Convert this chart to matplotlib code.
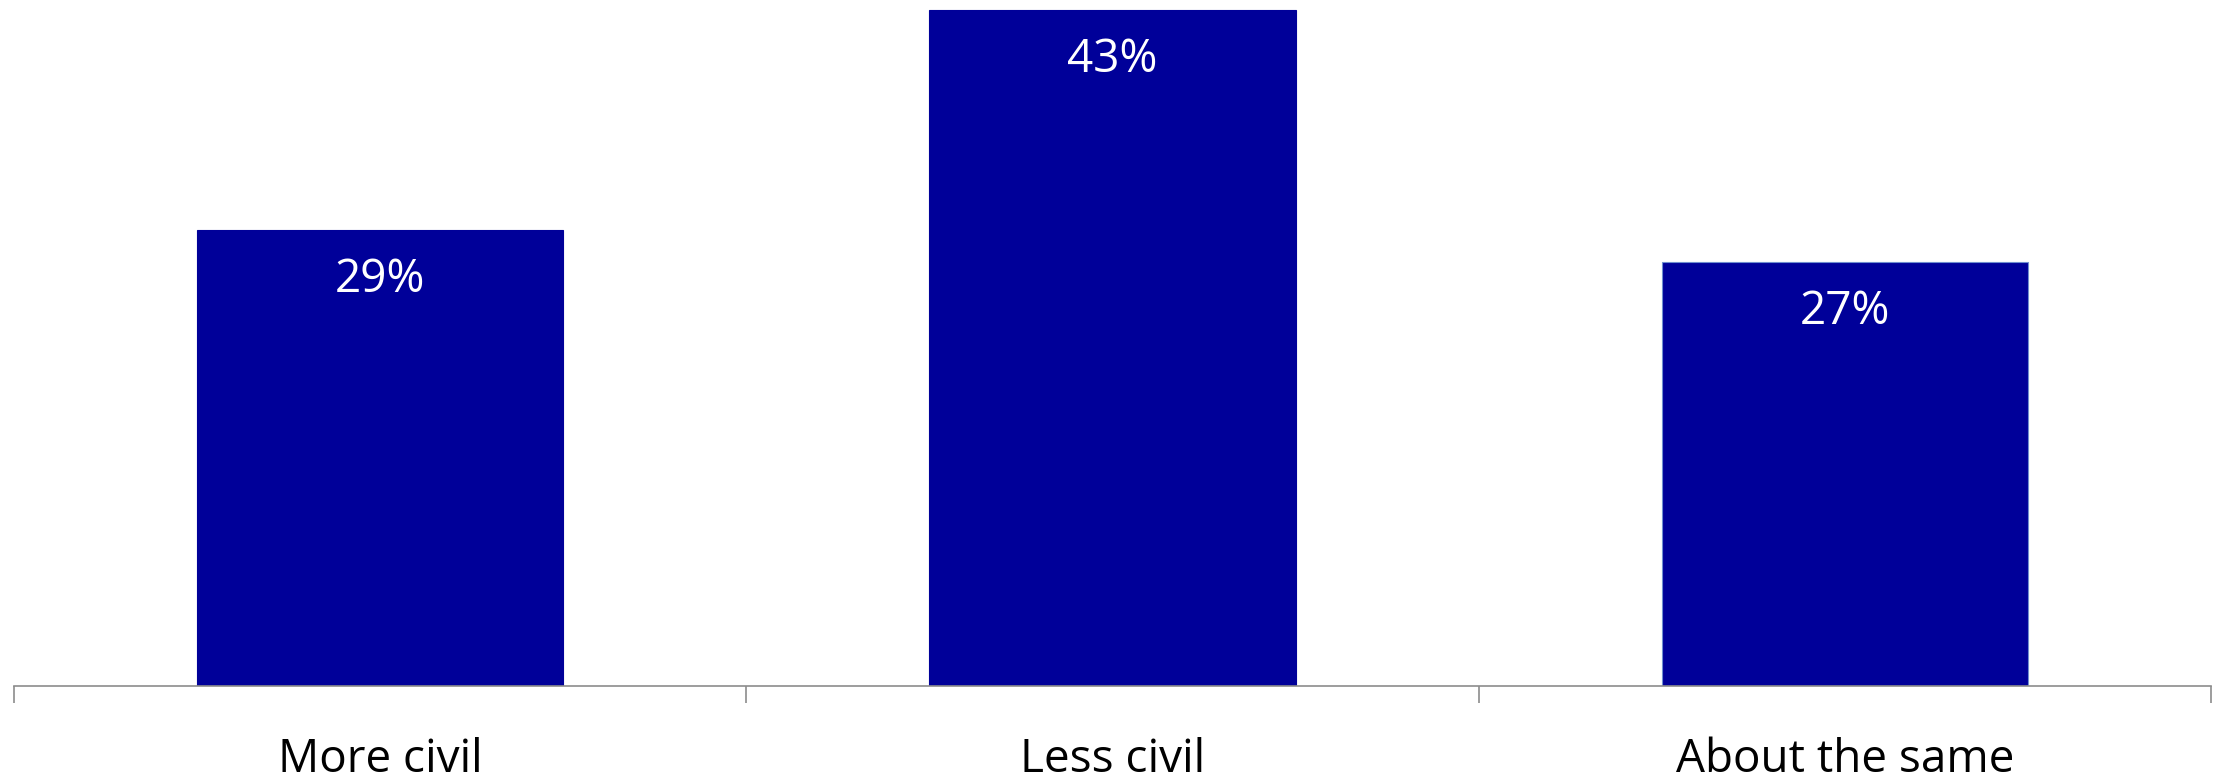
import matplotlib
matplotlib.use('Agg')
import matplotlib.pyplot as plt

plt.rcParams['font.family'] = ['Open Sans', 'DejaVu Sans']

# 데이터
categories = ['More civil', 'Less civil', 'About the same']
values = [29, 43, 27]
value_labels = ['29%', '43%', '27%']

bar_color = '#000099'
axis_color = '#8c8c8c'

fig = plt.figure(figsize=(22.24, 7.79), dpi=100)
ax = fig.add_axes([14 / 2224, 1 - 686 / 779, (2211 - 14) / 2224, 686 / 779])

x = list(range(len(categories)))
bars = ax.bar(x, values, width=0.5, color=bar_color, edgecolor=bar_color, linewidth=0.8)
# 세 번째 막대는 테두리가 살짝 밝음
bars[2].set_edgecolor('#6f8fd0')

for b, lab in zip(bars, value_labels):
    ax.annotate(lab, xy=(b.get_x() + b.get_width() / 2, b.get_height()),
                xytext=(0, -36), textcoords='offset points',
                ha='center', va='center', fontsize=33, color='white')

ax.set_xlim(-0.5, len(categories) - 0.5)
ax.set_ylim(0, 43.64)

for side in ['top', 'right', 'left']:
    ax.spines[side].set_visible(False)
ax.spines['bottom'].set_color(axis_color)
ax.spines['bottom'].set_linewidth(1.2)

ax.set_yticks([])
ax.set_xticks(x)
ax.set_xticklabels(categories, fontsize=33, color='black')
ax.tick_params(axis='x', which='major', length=0, pad=37)
ax.set_xticks([i - 0.5 for i in range(len(categories) + 1)], minor=True)
ax.tick_params(axis='x', which='minor', length=12, width=1.2, color=axis_color, direction='out')

fig.savefig('out.png', dpi=100, facecolor='white')
plt.close(fig)
